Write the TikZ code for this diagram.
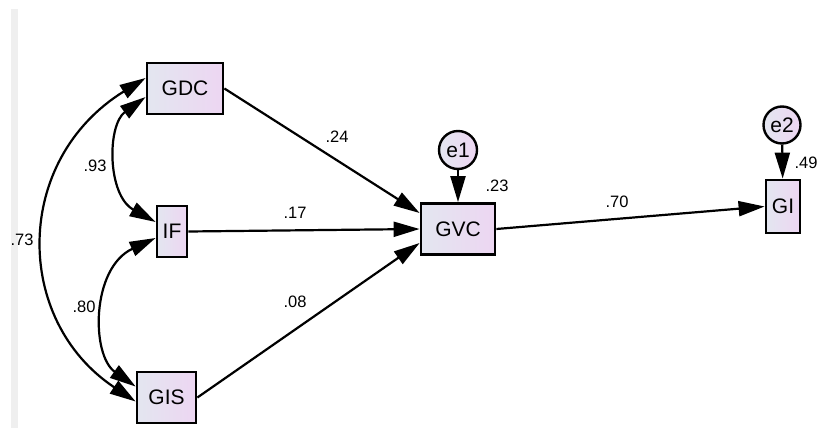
\documentclass[tikz,border=0pt]{standalone}
\usepackage{fontspec}
\setmainfont{Liberation Sans}
\usetikzlibrary{arrows.meta,calc}
\definecolor{semleft}{HTML}{E3E6F0}
\definecolor{semright}{HTML}{EDD6F2}
\definecolor{semstrip}{HTML}{EFEFEF}

\begin{document}
\begin{tikzpicture}[x=1pt, y=-1pt, >={Triangle[length=26pt,width=15pt]},
  var/.style={draw, line width=2.8pt, left color=semleft, right color=semright, minimum height=51pt, inner sep=0pt, font=\fontsize{21}{24}\selectfont},
  err/.style={var, circle, minimum size=38pt, line width=2.4pt},
  regpath/.style={->, line width=2.2pt},
  cov/.style={<->, line width=2.2pt},
  coef/.style={font=\fontsize{16.5}{18}\selectfont}]
  \useasboundingbox (0,0) rectangle (818,428);
  \fill[semstrip] (11,9) rectangle (18,428);
  % ---- observed variables ----
  \node[var, minimum width=76pt] (gdc) at (185,88.5) {GDC};
  \node[var, minimum width=30pt] (if) at (172,231.5) {IF};
  \node[var, minimum width=59pt] (gis) at (166.5,397.5) {GIS};
  \node[var, minimum width=74pt] (gvc) at (458,229) {GVC};
  \node[var, minimum width=34pt, minimum height=53pt] (gi) at (783,206.5) {GI};
  % ---- errors ----
  \node[err] (e1) at (458,150) {e1};
  \node[err, minimum size=37pt] (e2) at (782,125) {e2};
  % ---- paths ----
  \draw[regpath] (gdc.east) -- ([yshift=16pt]gvc.west);
  \draw[regpath] (if.east) -- (gvc.west);
  \draw[regpath] (gis.east) -- ([yshift=-14pt]gvc.west);
  \draw[regpath] (gvc.east) -- (gi.west);
  \draw[regpath] (e1) -- (gvc);
  \draw[regpath] (e2) -- (gi);
  % ---- covariances ----
  \draw[cov] ([yshift=10.5pt]gdc.west) .. controls (13,160) and (13,320) .. ([yshift=-4pt]gis.west);
  \draw[cov] ([yshift=-8.5pt]gdc.west) .. controls (107,125) and (107,195) .. ([yshift=9.5pt]if.west);
  \draw[cov] ([yshift=-6.5pt]if.west) .. controls (91,268) and (91,355) .. ([yshift=11pt]gis.west);
  % ---- estimates ----
  \foreach \t/\x/\y [count=\i] in {.24/337/137, .17/295/213, .08/295/302, .23/497/186, .70/617/202, .49/806/163, .93/95/166, .80/84/307, .73/22/240}
    \node[coef] (c\i) at (\x,\y) {\t};
\end{tikzpicture}
\end{document}
